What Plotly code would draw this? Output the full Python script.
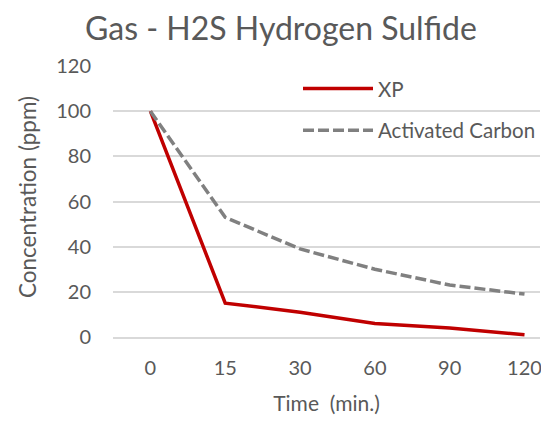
import plotly.graph_objects as go

# time points (categorical axis, as in the original sheet)
time_labels = ["0", "15", "30", "60", "90", "120"]
xp_ppm = [100, 15, 11, 6, 4, 1]
carbon_ppm = [100, 53, 39, 30, 23, 19]

font_family = "Lato, Open Sans, sans-serif"
text_color = "#595959"

fig = go.Figure()
fig.add_trace(go.Scatter(
    x=time_labels, y=xp_ppm, name="XP", mode="lines", legendgroup="xp",
    line=dict(color="#C00000", width=3.5)))
fig.add_trace(go.Scatter(
    x=time_labels, y=carbon_ppm, name="Activated Carbon", mode="lines",
    legendgroup="ac", line=dict(color="#808080", width=3.5, dash="11px,4px")))

# page body has an 8px margin, so the figure is sized to the visible area
fig.update_layout(
    width=533, height=407,
    margin=dict(l=105, r=0, t=58, b=78),
    paper_bgcolor="white", plot_bgcolor="white",
    font=dict(family=font_family, size=20, color=text_color),
    title=dict(text="Gas - H2S Hydrogen Sulfide", x=0.512, xanchor="center",
               y=0.9496, yanchor="middle", font=dict(size=32, color=text_color)),
    legend=dict(x=0.433, y=0.99, xanchor="left", yanchor="top",
                bgcolor="rgba(0,0,0,0)", font=dict(size=20.5),
                itemwidth=70, tracegroupgap=12),
    showlegend=True,
)
fig.update_xaxes(
    type="category", range=[-0.5, 5.207],
    showgrid=False, showline=True, linecolor="#D9D9D9", linewidth=1.5,
    ticks="", ticklabelstandoff=12, tickfont=dict(size=20),
    title=dict(text="Time&nbsp;&nbsp;(min.)", standoff=22, font=dict(size=21)))
fig.update_yaxes(
    range=[0, 120], dtick=20, showgrid=True, gridcolor="#D9D9D9", gridwidth=1.5,
    zeroline=False, showline=False, ticks="", ticklabelstandoff=21,
    tickfont=dict(size=20))

# y title placed as an annotation so it can sit further left than standoff allows
fig.add_annotation(
    text="Concentration (ppm)", textangle=-90, showarrow=False,
    xref="paper", yref="paper", x=-0.1986, y=0.517,
    xanchor="center", yanchor="middle", font=dict(size=22.5, color=text_color))

fig.write_html("out.html")
